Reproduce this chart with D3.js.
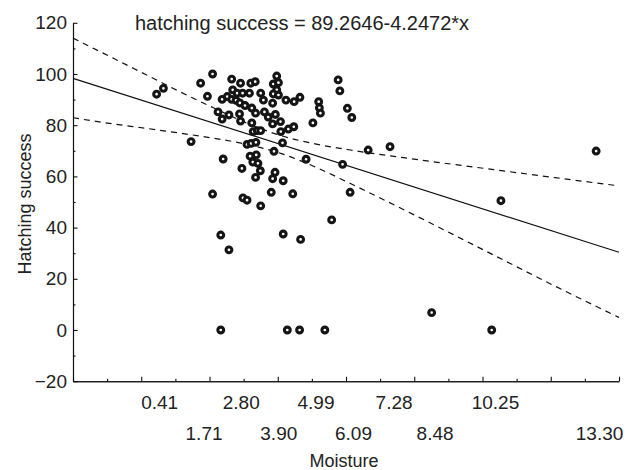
<!DOCTYPE html>
<html>
<head>
<meta charset="utf-8">
<script src="https://cdn.jsdelivr.net/npm/d3@7"></script>
<style>
    body { margin: 0; background: #fff; }
    text { font-family: "Liberation Sans", Arial, sans-serif; fill: #222; }
</style>
</head>
<body>
<div id="container"></div>
<script>
// moisture (x) and hatching success (y) of each nest
var moisture = [0.32, 0.52, 1.33, 1.61, 1.96, 1.81, 2.27, 1.96, 2.52, 2.78,
    3.08, 3.21, 3.84, 3.74, 3.89, 3.84, 2.55, 2.68, 2.84, 3.04,
    2.24, 2.39, 2.52, 2.65, 2.76, 2.91, 3.37, 3.45, 3.74, 3.89,
    3.72, 4.11, 4.35, 4.52, 5.07, 5.09, 5.12, 4.90, 5.64, 5.69,
    5.91, 6.04, 2.12, 2.24, 2.44, 2.75, 2.78, 3.11, 3.22, 3.48,
    3.59, 3.80, 3.95, 3.72, 3.11, 3.15, 3.27, 3.37, 3.96, 4.18,
    4.34, 2.97, 3.09, 3.23, 4.01, 3.06, 3.24, 3.14, 3.29, 3.36,
    3.22, 3.76, 2.82, 3.79, 3.72, 4.03, 3.68, 4.31, 4.70, 5.77,
    5.99, 2.85, 2.97, 3.37, 5.45, 6.52, 7.16, 13.20, 10.41, 8.38,
    10.14, 2.20, 2.44, 4.03, 4.54, 2.20, 4.15, 4.51, 5.25];

var hatching = [92.1, 94.4, 73.6, 96.4, 100, 91.3, 66.8, 53.1, 98.0, 96.4,
    96.4, 97.0, 99.2, 96.1, 96.6, 93.8, 93.8, 92.5, 92.5, 92.5,
    90.1, 91.2, 90.1, 89.7, 88.7, 87.7, 92.5, 89.8, 92.2, 91.8,
    88.6, 89.8, 89.2, 90.9, 89.2, 86.8, 84.7, 80.9, 97.7, 93.4,
    86.6, 83.0, 85.2, 82.4, 84.0, 84.4, 81.6, 86.7, 84.7, 85.2,
    83.2, 84.2, 81.4, 80.5, 80.9, 77.5, 77.9, 77.9, 77.5, 78.5,
    79.4, 72.5, 72.9, 73.3, 73.1, 67.9, 68.4, 65.6, 65.1, 62.2,
    59.6, 69.8, 63.1, 61.6, 59.1, 58.3, 53.8, 53.2, 66.7, 64.7,
    53.8, 51.6, 50.7, 48.5, 43.0, 70.3, 71.6, 69.9, 50.5, 6.8,
    0, 37.1, 31.3, 37.5, 35.4, 0, 0, 0, 0];

// fitted line: hatching success = 89.2646 - 4.2472*x
var fitIntercept = 89.2646;
var fitSlope = -4.2472;

// dashed confidence band, read at a few x positions
var bandX = [-2.13, -1, 0, 1, 2, 3, 4, 5, 6, 8, 10, 12, 13.87];
var bandUpper = [114.0, 106.5, 99.8, 93.1, 86.7, 80.6, 75.8, 72.6, 70.3, 66.5, 63.0, 59.5, 56.3];
var bandLower = [82.9, 80.6, 78.8, 76.9, 74.9, 72.4, 68.8, 63.5, 57.2, 44.1, 30.6, 17.1, 4.9];

// axes
var xDomain = [-2.13, 13.87];
var xMajorTicks = [-2.13, -0.13, 1.87, 3.87, 5.87, 7.87, 9.87, 11.87, 13.87];
var xMinorTicks = [-1.13, 0.87, 2.87, 4.87, 6.87, 8.87, 10.87, 12.87];
var xLabelsTop = [0.41, 2.80, 4.99, 7.28, 10.25];
var xLabelsBottom = [1.71, 3.90, 6.09, 8.48, 13.30];
var yMajorTicks = [-20, 0, 20, 40, 60, 80, 100, 120];
var yMinorTicks = [-10, 10, 30, 50, 70, 90, 110];

var width = 633;
var height = 470;

var svg = d3.select('#container')
    .append("svg")
    .attr("width", width)
    .attr("height", height);

var x = d3.scaleLinear().domain(xDomain).range([73, 619]);
var y = d3.scaleLinear().domain([-20, 120]).range([381.2, 22.8]);

// x axis (ticks point inward, labels drawn separately)
svg.append("g")
    .attr("transform", "translate(0," + y(-20) + ")")
    .call(d3.axisBottom(x).tickValues(xMinorTicks).tickSize(-2.5).tickSizeOuter(0).tickFormat(""));
svg.append("g")
    .attr("transform", "translate(0," + y(-20) + ")")
    .call(d3.axisBottom(x).tickValues(xMajorTicks).tickSize(-4.5).tickSizeOuter(0).tickFormat(""));

// y axis
svg.append("g")
    .attr("transform", "translate(" + x(xDomain[0]) + ",0)")
    .call(d3.axisLeft(y).tickValues(yMinorTicks).tickSize(-2.5).tickSizeOuter(0).tickFormat(""));
var yAxis = svg.append("g")
    .attr("transform", "translate(" + x(xDomain[0]) + ",0)")
    .call(d3.axisLeft(y).tickValues(yMajorTicks).tickSize(-4.5).tickSizeOuter(0).tickPadding(6));

svg.selectAll(".domain, .tick line").attr("stroke", "#111").attr("stroke-width", 1.1);
yAxis.selectAll("text")
    .style("font-family", '"Liberation Sans", Arial, sans-serif')
    .style("font-size", "19px")
    .attr("fill", "#222");

// x tick labels in two rows
svg.append("g").selectAll("text")
    .data(xLabelsTop)
    .enter()
    .append("text")
    .attr("x", d => x(d))
    .attr("y", 409)
    .attr("text-anchor", "middle")
    .style("font-size", "19px")
    .text(d => d.toFixed(2));

svg.append("g").selectAll("text")
    .data(xLabelsBottom)
    .enter()
    .append("text")
    .attr("x", d => x(d))
    .attr("y", 440)
    .attr("text-anchor", "middle")
    .style("font-size", "19px")
    .text(d => d.toFixed(2));

// axis titles
svg.append("text")
    .attr("x", 344)
    .attr("y", 467)
    .attr("text-anchor", "middle")
    .style("font-size", "18px")
    .text("Moisture");

svg.append("text")
    .attr("transform", "translate(31,204) rotate(-90)")
    .attr("text-anchor", "middle")
    .style("font-size", "18px")
    .text("Hatching success");

svg.append("text")
    .attr("x", 135)
    .attr("y", 30)
    .style("font-size", "20px")
    .text("hatching success = 89.2646-4.2472*x");

// confidence band
var band = bandX.map((d, i) => ({ x: d, up: bandUpper[i], lo: bandLower[i] }));

svg.append("path")
    .datum(band)
    .attr("fill", "none")
    .attr("stroke", "#111")
    .attr("stroke-width", 1.2)
    .attr("stroke-dasharray", "6,5")
    .attr("d", d3.line().curve(d3.curveMonotoneX).x(d => x(d.x)).y(d => y(d.up)));

svg.append("path")
    .datum(band)
    .attr("fill", "none")
    .attr("stroke", "#111")
    .attr("stroke-width", 1.2)
    .attr("stroke-dasharray", "6,5")
    .attr("d", d3.line().curve(d3.curveMonotoneX).x(d => x(d.x)).y(d => y(d.lo)));

// regression line
svg.append("line")
    .attr("x1", x(xDomain[0]))
    .attr("y1", y(fitIntercept + fitSlope * xDomain[0]))
    .attr("x2", x(xDomain[1]))
    .attr("y2", y(fitIntercept + fitSlope * xDomain[1]))
    .attr("stroke", "#111")
    .attr("stroke-width", 1.2);

// points: thick dark rings with a small white centre
svg.append("g").selectAll("circle")
    .data(moisture)
    .enter()
    .append("circle")
    .attr("cx", d => x(d))
    .attr("cy", (d, i) => y(hatching[i]))
    .attr("r", 2.9)
    .attr("fill", "#fff")
    .attr("stroke", "#151515")
    .attr("stroke-width", 3.1);
</script>
</body>
</html>
